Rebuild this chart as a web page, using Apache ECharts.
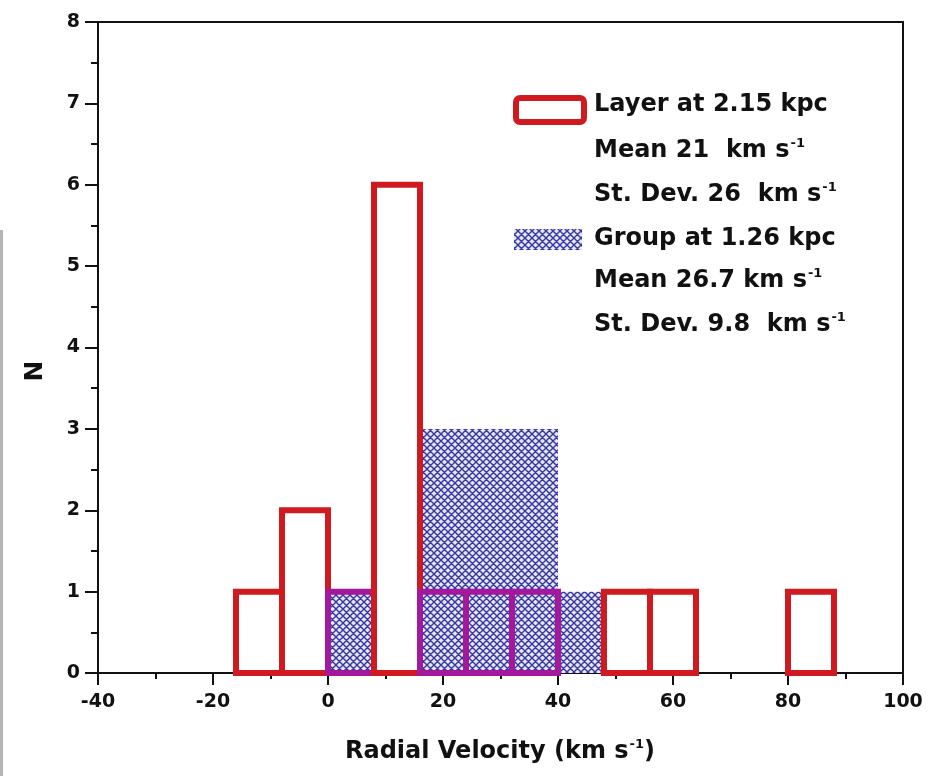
<!DOCTYPE html>
<html><head><meta charset="utf-8">
<script src="https://cdn.jsdelivr.net/npm/echarts@6/dist/echarts.min.js"></script>
<style>html,body{margin:0;padding:0;background:#fff}#c{width:929px;height:776px}</style>
</head><body><div id="c"></div>
<script>
// ---- data ----
const binStarts = [-16, -8, 0, 8, 16, 24, 32, 40, 48, 56, 64, 72, 80];
const binWidth = 8;
const layerCounts = [1, 2, 1, 6, 1, 1, 1, 0, 1, 1, 0, 0, 1];
const groupCounts = [0, 0, 1, 0, 3, 3, 3, 1, 0, 0, 0, 0, 0];
const layerLegend = ['Layer at 2.15 kpc', 'Mean 21  km s{sup|-1}', 'St. Dev. 26  km s{sup|-1}'];
const groupLegend = ['Group at 1.26 kpc', 'Mean 26.7 km s{sup|-1}', 'St. Dev. 9.8  km s{sup|-1}'];
const xAxisTitle = 'Radial Velocity (km s{sup|-1})';
const yAxisTitle = 'N';

// ---- styles ----
const FONT = '"DejaVu Sans", sans-serif';
const RED = '#cf1a20';
const PURPLE = '#a3189c';
const INK = '#111';

function makeHatch() {
  const s = 7, c = document.createElement('canvas');
  c.width = s; c.height = s;
  const g = c.getContext('2d');
  g.fillStyle = '#e6e6fc'; g.fillRect(0, 0, s, s);
  g.strokeStyle = '#3636a0'; g.lineWidth = 1.4;
  g.beginPath();
  for (const d of [-s, 0, s]) {
    g.moveTo(d, 0); g.lineTo(d + s, s);
    g.moveTo(d + s, 0); g.lineTo(d, s);
  }
  g.stroke();
  return c;
}
const hatch = { type: 'pattern', image: makeHatch(), repeat: 'repeat' };

const groupData = binStarts.map((s, i) => [s, s + binWidth, groupCounts[i]]).filter(d => d[2] > 0);
const layerData = binStarts.map((s, i) => [s, s + binWidth, layerCounts[i], groupCounts[i] > 0 ? 1 : 0]).filter(d => d[2] > 0);

function barShape(api) {
  const p0 = api.coord([api.value(0), 0]);
  const p1 = api.coord([api.value(1), api.value(2)]);
  return { x: p0[0], y: p1[1], width: p1[0] - p0[0], height: p0[1] - p1[1] };
}

const legendTexts = [];
const lineYs = [105, 151, 195, 239, 281, 325];
layerLegend.concat(groupLegend).forEach((t, i) => {
  legendTexts.push({
    type: 'text', z: 100,
    style: {
      text: t, x: 594, y: lineYs[i], verticalAlign: 'middle', align: 'left',
      font: 'bold 24px ' + FONT, fill: INK,
      rich: { sup: { font: 'bold 13px ' + FONT, padding: [0, 0, 14, 1], fill: INK } }
    }
  });
});

const chart = echarts.init(document.getElementById('c'), null, { renderer: 'canvas' });
chart.setOption({
  animation: false,
  backgroundColor: '#fff',
  grid: { left: 98, right: 26, top: 22, bottom: 103, show: true, borderColor: INK, borderWidth: 2, backgroundColor: 'transparent' },
  xAxis: {
    type: 'value', min: -40, max: 100, interval: 20,
    axisLine: { onZero: false, lineStyle: { color: INK, width: 2 } },
    axisTick: { length: 12, lineStyle: { color: INK, width: 2 } },
    minorTick: { show: true, splitNumber: 2, length: 6, lineStyle: { color: INK, width: 2 } },
    splitLine: { show: false }, minorSplitLine: { show: false },
    axisLabel: { margin: 20, color: INK, fontFamily: FONT, fontWeight: 'bold', fontSize: 19, showMinLabel: true, showMaxLabel: true }
  },
  yAxis: {
    type: 'value', min: 0, max: 8, interval: 1,
    axisLine: { onZero: false, lineStyle: { color: INK, width: 2 } },
    axisTick: { length: 13, lineStyle: { color: INK, width: 2 } },
    minorTick: { show: true, splitNumber: 2, length: 7, lineStyle: { color: INK, width: 2 } },
    splitLine: { show: false }, minorSplitLine: { show: false },
    axisLabel: { margin: 18, color: INK, fontFamily: FONT, fontWeight: 'bold', fontSize: 19, showMinLabel: true, showMaxLabel: true }
  },
  series: [
    {
      name: 'Group at 1.26 kpc', type: 'custom', z: 2,
      encode: { x: [0, 1], y: 2 },
      data: groupData,
      renderItem: (params, api) => ({ type: 'rect', shape: barShape(api), style: { fill: hatch, stroke: null } })
    },
    {
      name: 'Layer at 2.15 kpc', type: 'custom', z: 3,
      encode: { x: [0, 1], y: 2 },
      data: layerData,
      renderItem: (params, api) => ({
        type: 'rect', shape: barShape(api),
        style: { fill: null, stroke: api.value(3) ? PURPLE : RED, lineWidth: 6, lineJoin: 'miter' }
      })
    }
  ],
  graphic: [
    { type: 'rect', shape: { x: 0, y: 230, width: 3, height: 546 }, style: { fill: '#b5b5b5' } },
    { type: 'rect', z: 100, shape: { x: 516, y: 98, width: 68, height: 24, r: 4 }, style: { fill: '#fff', stroke: RED, lineWidth: 6 } },
    { type: 'rect', z: 100, shape: { x: 514, y: 229, width: 68, height: 21 }, style: { fill: hatch } },
    ...legendTexts,
    {
      type: 'text', z: 100,
      style: {
        text: xAxisTitle, x: 500, y: 752, align: 'center', verticalAlign: 'middle',
        font: 'bold 24px ' + FONT, fill: INK,
        rich: { sup: { font: 'bold 13px ' + FONT, padding: [0, 0, 14, 1], fill: INK } }
      }
    },
    {
      type: 'text', z: 100, x: 35, y: 371, rotation: Math.PI / 2,
      style: { text: yAxisTitle, x: 0, y: 0, align: 'center', verticalAlign: 'middle', font: 'bold 25px ' + FONT, fill: INK }
    }
  ]
});
</script></body></html>
